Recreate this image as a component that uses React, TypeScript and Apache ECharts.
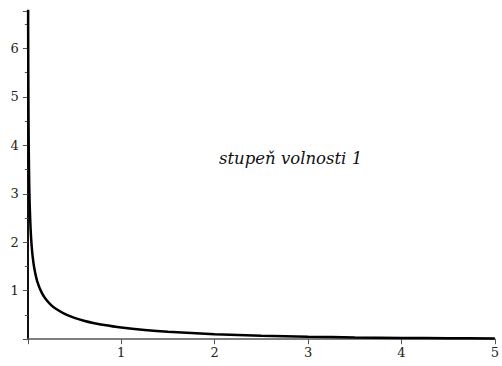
import React, { useEffect, useRef } from "react";
import * as echarts from "echarts";

// Curve points (x, density)
const xs = [0.003, 0.004, 0.005, 0.007, 0.01, 0.015, 0.02, 0.03, 0.04, 0.05, 0.07, 0.1, 0.15, 0.2, 0.25, 0.3, 0.4, 0.5, 0.6, 0.7, 0.8, 1, 1.25, 1.5, 2, 2.5, 3, 3.5, 4, 4.5, 5];
const ys = [7.28, 6.31, 5.63, 4.77, 3.97, 3.23, 2.79, 2.27, 1.955, 1.74, 1.457, 1.2, 0.956, 0.807, 0.704, 0.627, 0.516, 0.439, 0.382, 0.336, 0.299, 0.242, 0.191, 0.154, 0.104, 0.0724, 0.0514, 0.0371, 0.027, 0.0198, 0.0146];
const xTicks = [1, 2, 3, 4, 5];
const yTicks = [1, 2, 3, 4, 5, 6];
const label = "stupeň volnosti 1";

export default function App() {
  const ref = useRef<HTMLDivElement>(null);
  useEffect(() => {
    const chart = echarts.init(ref.current!, null, { renderer: "svg" });
    const font = "DejaVu Serif";
    chart.setOption({
      animation: false,
      textStyle: { fontFamily: font },
      grid: { left: 27.8, right: 4.7, top: 11, bottom: 26.8 },
      xAxis: {
        type: "value",
        min: 0,
        max: 5,
        interval: 1,
        axisLine: { lineStyle: { color: "#555", width: 1.5 } },
        axisTick: { show: true, length: 5, lineStyle: { color: "#555" } },
        splitLine: { show: false },
        axisLabel: {
          color: "#222",
          fontFamily: font,
          fontSize: 13,
          margin: 7,
          formatter: (v: number) => (xTicks.includes(v) ? String(v) : ""),
        },
      },
      yAxis: {
        type: "value",
        min: 0,
        max: 6.77,
        interval: 1,
        axisLine: { show: true, lineStyle: { color: "#111", width: 2 } },
        axisTick: { show: true, length: 5, lineStyle: { color: "#555" } },
        minorTick: { show: true, splitNumber: 2, length: 3, lineStyle: { color: "#555" } },
        splitLine: { show: false },
        showMaxLabel: false,
        axisLabel: {
          color: "#222",
          fontFamily: font,
          fontSize: 13,
          margin: 9,
          formatter: (v: number) => (yTicks.includes(v) ? String(v) : ""),
        },
      },
      series: [
        {
          type: "line",
          data: xs.map((x, i) => [x, ys[i]]),
          smooth: 0.3,
          showSymbol: false,
          clip: true,
          lineStyle: { color: "#000", width: 2.5 },
        },
      ],
      graphic: [
        {
          type: "text",
          left: 219,
          top: 150,
          style: {
            text: label,
            fontFamily: font,
            fontStyle: "italic",
            fontSize: 16.5,
            fill: "#111",
          },
        },
      ],
    });
    return () => chart.dispose();
  }, []);
  return <div ref={ref} style={{ width: 502, height: 366, position: "absolute", left: 0, top: 0 }} />;
}
